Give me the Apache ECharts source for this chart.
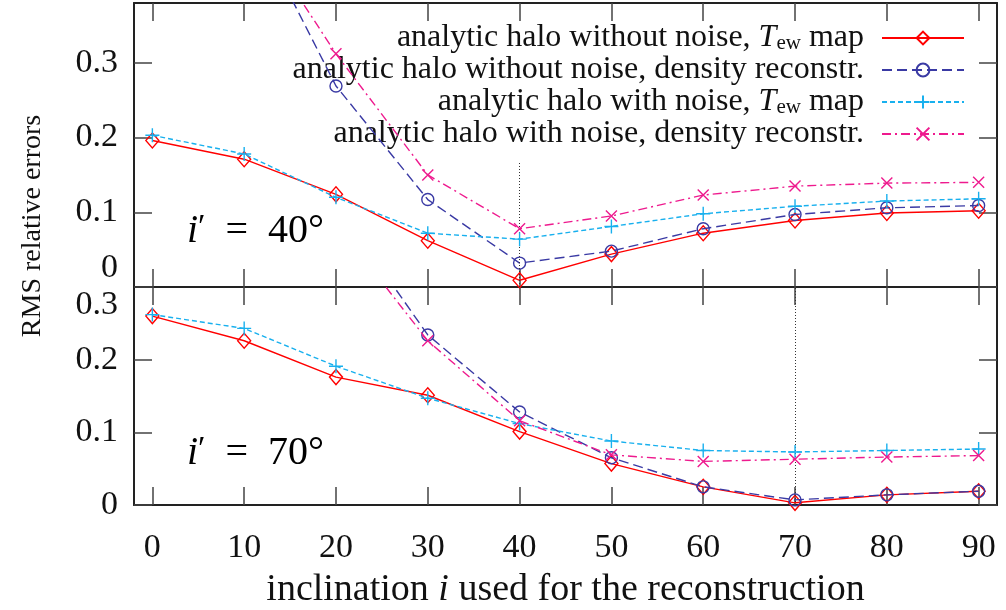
<!DOCTYPE html>
<html>
<head>
<meta charset="utf-8">
<script src="https://cdn.jsdelivr.net/npm/echarts@6/dist/echarts.min.js"></script>
<style>
  html, body { margin: 0; padding: 0; background: #fff; }
  #chart { width: 1006px; height: 610px; }
</style>
</head>
<body>
<div id="chart"></div>
<script>
// Reconstruction inclinations (degrees)
const inclination = [0, 10, 20, 30, 40, 50, 60, 70, 80, 90];

// True inclination i' = 40 deg
const noNoiseTew40  = [0.196, 0.171, 0.124, 0.062, 0.009, 0.044, 0.072, 0.089, 0.099, 0.102];
const noNoiseDens40 = [0.74, 0.51, 0.269, 0.117, 0.032, 0.048, 0.078, 0.097, 0.106, 0.109];
const noiseTew40    = [0.203, 0.178, 0.120, 0.072, 0.064, 0.081, 0.098, 0.108, 0.115, 0.118];
const noiseDens40   = [0.70, 0.50, 0.312, 0.150, 0.078, 0.095, 0.123, 0.135, 0.139, 0.140];

// True inclination i' = 70 deg
const noNoiseTew70  = [0.260, 0.226, 0.176, 0.151, 0.101, 0.057, 0.025, 0.003, 0.014, 0.019];
const noNoiseDens70 = [0.62, 0.55, 0.414, 0.234, 0.128, 0.065, 0.025, 0.007, 0.014, 0.019];
const noiseTew70    = [0.262, 0.243, 0.191, 0.147, 0.112, 0.088, 0.075, 0.073, 0.075, 0.077];
const noiseDens70   = [0.60, 0.52, 0.388, 0.226, 0.116, 0.069, 0.060, 0.063, 0.066, 0.068];

// Axis ticks
const xTicks = [0, 10, 20, 30, 40, 50, 60, 70, 80, 90];
const yTicksTop = [0, 0.1, 0.2, 0.3];
const yTicksBottom = [0, 0.1, 0.2, 0.3];

// Series names (legend)
const seriesNames = [
  'analytic halo without noise, Tew map',
  'analytic halo without noise, density reconstr.',
  'analytic halo with noise, Tew map',
  'analytic halo with noise, density reconstr.'
];

// Dotted markers at the true inclination of each panel
const trueIncTop = 40;
const trueIncBottom = 70;
const markTopHeight = 0.167;

const FONT = 'Liberation Serif';
const INK = '#111';
const BORDER = '#222';

const styles = [
  { color: '#ff0000', dash: 'solid',       symbol: 'diamond', size: [13, 15] },
  { color: '#3a3aa4', dash: [10, 5],       symbol: 'circle',  size: 12 },
  { color: '#18b0ee', dash: [5, 3],        symbol: 'path://M0,-1L0,1M-1,0L1,0', size: 14 },
  { color: '#ee1a8e', dash: [9, 4, 2, 4],  symbol: 'path://M-1,-1L1,1M-1,1L1,-1', size: 11 }
];

function makeSeries(idx, values, panel, markX, markTop) {
  const st = styles[idx];
  const s = {
    type: 'line',
    name: seriesNames[idx],
    xAxisIndex: panel === 0 ? 0 : 2,
    yAxisIndex: panel === 0 ? 0 : 2,
    data: inclination.map((x, i) => [x, values[i]]),
    symbol: st.symbol,
    symbolSize: st.size,
    showAllSymbol: true,
    clip: true,
    silent: true,
    lineStyle: { color: st.color, width: 1.4, type: st.dash },
    itemStyle: { color: 'transparent', borderColor: st.color, borderWidth: 1.4 },
    emphasis: { disabled: true },
    z: 3 + idx
  };
  if (markX !== undefined) {
    s.markLine = {
      silent: true,
      symbol: ['none', 'none'],
      label: { show: false },
      lineStyle: { color: '#333', width: 1, type: [1, 2] },
      data: [[{ coord: [markX, 0] }, { coord: [markX, markTop] }]]
    };
  }
  return s;
}

function xAxisDef(grid, pos, withLabels) {
  const a = {
    type: 'value', gridIndex: grid, position: pos, min: -2, max: 92,
    splitLine: { show: false },
    axisLine: { show: true, onZero: false, lineStyle: { color: BORDER, width: 2 } },
    axisTick: { show: true, inside: true, length: 18, customValues: xTicks,
                lineStyle: { color: '#444', width: 1.5 } },
    axisLabel: { show: withLabels, customValues: xTicks, margin: 26,
                 fontFamily: FONT, fontSize: 34, color: INK }
  };
  if (withLabels) {
    a.name = 'inclination {it|i} used for the reconstruction';
    a.nameLocation = 'middle';
    a.nameGap = 66;
    a.nameTextStyle = {
      fontFamily: FONT, fontSize: 38, color: INK,
      rich: { it: { fontFamily: FONT, fontSize: 38, fontStyle: 'italic', color: INK } }
    };
  }
  return a;
}

function yAxisDef(grid, pos, max, ticks, withLabels, panel) {
  return {
    type: 'value', gridIndex: grid, position: pos, min: 0, max: max,
    splitLine: { show: false },
    axisLine: { show: true, onZero: false, lineStyle: { color: BORDER, width: 2 } },
    axisTick: { show: true, inside: true, length: 18, customValues: ticks,
                lineStyle: { color: '#444', width: 1.5 } },
    axisLabel: {
      show: withLabels, customValues: ticks, margin: 16,
      fontFamily: FONT, fontSize: 34, color: INK,
      formatter: function (v) {
        const txt = v === 0 ? '0' : v.toFixed(1);
        if (panel === 0 && v === 0) return '{lo|' + txt + '}';
        if (panel === 1 && Math.abs(v - 0.3) < 1e-9) return '{hi|' + txt + '}';
        return txt;
      },
      rich: {
        lo: { fontFamily: FONT, fontSize: 34, color: INK, padding: [0, 0, 38, 0] },
        hi: { fontFamily: FONT, fontSize: 34, color: INK, padding: [36, 0, 0, 0] }
      }
    }
  };
}

const panelLabelRich = {
  m: { fontFamily: FONT, fontSize: 40, fontStyle: 'italic', color: INK },
  p: { fontFamily: FONT, fontSize: 34, color: INK, verticalAlign: 'top', lineHeight: 30 },
  n: { fontFamily: FONT, fontSize: 40, color: INK }
};

const option = {
  backgroundColor: '#fff',
  animation: false,
  textStyle: { fontFamily: FONT },
  grid: [
    { left: 134, top: 3, width: 863, height: 284 },
    { left: 134, top: 287, width: 863, height: 220 }
  ],
  xAxis: [
    xAxisDef(0, 'bottom', false),
    xAxisDef(0, 'top', false),
    xAxisDef(1, 'bottom', true),
    xAxisDef(1, 'top', false)
  ],
  yAxis: [
    yAxisDef(0, 'left', 0.38, yTicksTop, true, 0),
    yAxisDef(0, 'right', 0.38, yTicksTop, false, 0),
    yAxisDef(1, 'left', 0.3, yTicksBottom, true, 1),
    yAxisDef(1, 'right', 0.3, yTicksBottom, false, 1)
  ],
  legend: {
    data: seriesNames,
    orient: 'vertical',
    align: 'right',
    right: 41,
    top: 22,
    padding: 0,
    itemGap: 0,
    itemWidth: 82,
    itemHeight: 16,
    selectedMode: false,
    formatter: function (name) {
      return name.replace('Tew', '{t|T}{s|ew}');
    },
    textStyle: {
      fontFamily: FONT, fontSize: 32, color: INK, lineHeight: 32,
      padding: [0, 13, 0, 0],
      rich: {
        t: { fontFamily: FONT, fontSize: 32, fontStyle: 'italic', color: INK, lineHeight: 32 },
        s: { fontFamily: FONT, fontSize: 21, color: INK, lineHeight: 14, verticalAlign: 'bottom' }
      }
    }
  },
  graphic: [
    {
      type: 'text', left: 187, top: 211, silent: true,
      style: { text: '{m|i}{p|\u2032}{n|\u2002=\u200240\u00b0}', rich: panelLabelRich }
    },
    {
      type: 'text', left: 187, top: 433, silent: true,
      style: { text: '{m|i}{p|\u2032}{n|\u2002=\u200270\u00b0}', rich: panelLabelRich }
    },
    {
      type: 'text', x: 33, y: 226, rotation: Math.PI / 2, silent: true,
      style: {
        text: 'RMS relative errors', font: '28px "Liberation Serif"', fill: INK,
        align: 'center', verticalAlign: 'middle',
        textAlign: 'center', textVerticalAlign: 'middle'
      }
    }
  ],
  series: [
    makeSeries(0, noNoiseTew40, 0, trueIncTop, markTopHeight),
    makeSeries(1, noNoiseDens40, 0),
    makeSeries(2, noiseTew40, 0),
    makeSeries(3, noiseDens40, 0),
    makeSeries(0, noNoiseTew70, 1, trueIncBottom, 0.3),
    makeSeries(1, noNoiseDens70, 1),
    makeSeries(2, noiseTew70, 1),
    makeSeries(3, noiseDens70, 1)
  ]
};

const chart = echarts.init(document.getElementById('chart'), null, { renderer: 'canvas' });
chart.setOption(option);
</script>
</body>
</html>
